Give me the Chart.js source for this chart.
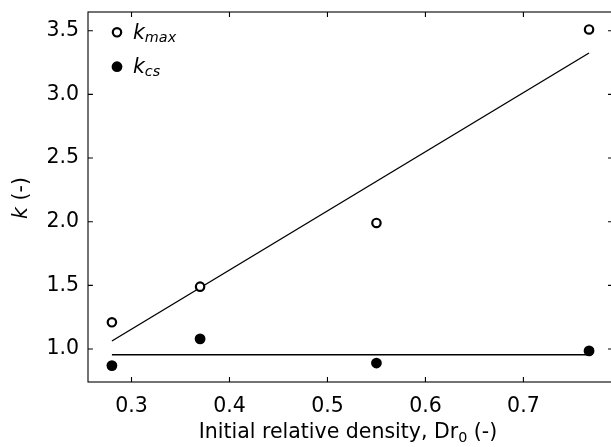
<!DOCTYPE html>
<html>
<head>
<meta charset="utf-8">
<script src="https://cdn.jsdelivr.net/npm/chart.js@4.4.1/dist/chart.umd.min.js"></script>
<style>
html, body { margin: 0; padding: 0; background: #fff; overflow: hidden; }
</style>
</head>
<body>
<canvas id="c" width="611" height="447"></canvas>
<script>
// values
var density = [0.28, 0.37, 0.55, 0.767];
var kMax = [1.21, 1.49, 1.99, 3.51];
var kCs = [0.87, 1.08, 0.89, 0.985];
// trend lines, end points
var fitX = [0.28, 0.767];
var kMaxFit = [1.063, 3.325];
var kCsFit = [0.955, 0.955];
var xTicks = [0.3, 0.4, 0.5, 0.6, 0.7];
var yTicks = [1.0, 1.5, 2.0, 2.5, 3.0, 3.5];

// axis limits; the figure is cut just before the right frame edge
var xMin = 0.2556, xVisibleMax = 0.7894, xFrameMax = 0.7914;
var yMin = 0.741, yMax = 3.647;

var FONT = '"DejaVu Sans", sans-serif';
var FS = 20.5;

function pts(xs, ys) {
    return xs.map(function (x, i) { return { x: x, y: ys[i] }; });
}

function noPad(s) {
    s.paddingTop = 0; s.paddingBottom = 0;
    s.paddingLeft = 0; s.paddingRight = 0;
}

// inward ticks, box, titles and legend, matplotlib style
var decorations = {
    id: 'decorations',
    afterDraw: function (chart) {
        var ctx = chart.ctx;
        var a = chart.chartArea;
        var sx = chart.scales.x, sy = chart.scales.y;
        var right = sx.getPixelForValue(xFrameMax);
        var tl = 4.9;
        ctx.save();
        ctx.strokeStyle = '#000';
        ctx.lineWidth = 1.1;
        ctx.beginPath();
        sx.ticks.forEach(function (t) {
            var p = sx.getPixelForValue(t.value);
            ctx.moveTo(p, a.bottom); ctx.lineTo(p, a.bottom - tl);
            ctx.moveTo(p, a.top); ctx.lineTo(p, a.top + tl);
        });
        sy.ticks.forEach(function (t) {
            var p = sy.getPixelForValue(t.value);
            ctx.moveTo(a.left, p); ctx.lineTo(a.left + tl, p);
            ctx.moveTo(right, p); ctx.lineTo(right - tl, p);
        });
        ctx.stroke();
        ctx.strokeRect(a.left, a.top, right - a.left, a.bottom - a.top);

        ctx.fillStyle = '#000';
        ctx.textBaseline = 'alphabetic';

        // x title
        var main = 'Initial relative density, Dr', sub = '0', tail = ' (-)';
        ctx.font = FS + 'px ' + FONT;
        var w1 = ctx.measureText(main).width, w3 = ctx.measureText(tail).width;
        ctx.font = (FS * 0.7) + 'px ' + FONT;
        var w2 = ctx.measureText(sub).width;
        var x0 = 348 - (w1 + w2 + w3) / 2;
        ctx.textAlign = 'left';
        ctx.font = FS + 'px ' + FONT;
        ctx.fillText(main, x0, 438);
        ctx.fillText(tail, x0 + w1 + w2, 438);
        ctx.font = (FS * 0.7) + 'px ' + FONT;
        ctx.fillText(sub, x0 + w1, 441.5);

        // y title
        ctx.save();
        ctx.translate(26.7, 198);
        ctx.rotate(-Math.PI / 2);
        ctx.font = 'italic ' + FS + 'px ' + FONT;
        var wk = ctx.measureText('k').width;
        ctx.font = FS + 'px ' + FONT;
        var wr = ctx.measureText(' (-)').width;
        var y0 = -(wk + wr) / 2;
        ctx.font = 'italic ' + FS + 'px ' + FONT;
        ctx.fillText('k', y0, 0);
        ctx.font = FS + 'px ' + FONT;
        ctx.fillText(' (-)', y0 + wk, 0);
        ctx.restore();

        // legend
        ctx.lineWidth = 2.2;
        ctx.beginPath();
        ctx.arc(117, 32.3, 4.2, 0, Math.PI * 2);
        ctx.fillStyle = '#fff';
        ctx.fill();
        ctx.stroke();
        ctx.fillStyle = '#000';
        ctx.beginPath();
        ctx.arc(117, 66.7, 5.4, 0, Math.PI * 2);
        ctx.fill();
        [['max', 39.3], ['cs', 73]].forEach(function (e) {
            ctx.font = 'italic ' + FS + 'px ' + FONT;
            ctx.fillText('k', 133, e[1]);
            var kw = ctx.measureText('k').width;
            ctx.font = 'italic ' + (FS * 0.7) + 'px ' + FONT;
            ctx.fillText(e[0], 133 + kw, e[1] + 3);
        });
        ctx.restore();
    }
};

new Chart(document.getElementById('c'), {
    type: 'scatter',
    data: {
        datasets: [
            {
                data: pts(density, kMax),
                pointStyle: 'circle',
                pointRadius: 4.2,
                pointBorderWidth: 2.2,
                pointBorderColor: '#000',
                pointBackgroundColor: '#fff'
            },
            {
                data: pts(density, kCs),
                pointRadius: 5.4,
                pointBorderWidth: 0,
                pointBackgroundColor: '#000'
            },
            {
                data: pts(fitX, kMaxFit),
                showLine: true,
                pointRadius: 0,
                borderColor: '#000',
                borderWidth: 1.4
            },
            {
                data: pts(fitX, kCsFit),
                showLine: true,
                pointRadius: 0,
                borderColor: '#000',
                borderWidth: 1.4
            }
        ]
    },
    options: {
        responsive: false,
        animation: false,
        devicePixelRatio: 1,
        layout: { autoPadding: false, padding: { left: 0, top: 12, right: 0, bottom: 0 } },
        plugins: { legend: { display: false }, tooltip: { enabled: false } },
        scales: {
            x: {
                type: 'linear',
                min: xMin,
                max: xVisibleMax,
                grid: { display: false, drawTicks: false },
                border: { display: false },
                afterBuildTicks: function (s) { s.ticks = xTicks.map(function (v) { return { value: v }; }); },
                afterFit: function (s) { s.height = 65; noPad(s); },
                ticks: {
                    padding: 12,
                    color: '#000',
                    font: { family: FONT, size: FS },
                    callback: function (v) { return v.toFixed(1); }
                }
            },
            y: {
                type: 'linear',
                min: yMin,
                max: yMax,
                grid: { display: false, drawTicks: false },
                border: { display: false },
                afterBuildTicks: function (s) { s.ticks = yTicks.map(function (v) { return { value: v }; }); },
                afterFit: function (s) { s.width = 88; noPad(s); },
                ticks: {
                    padding: 9,
                    color: '#000',
                    font: { family: FONT, size: FS },
                    callback: function (v) { return v.toFixed(1); }
                }
            }
        }
    },
    plugins: [decorations]
});
</script>
</body>
</html>
